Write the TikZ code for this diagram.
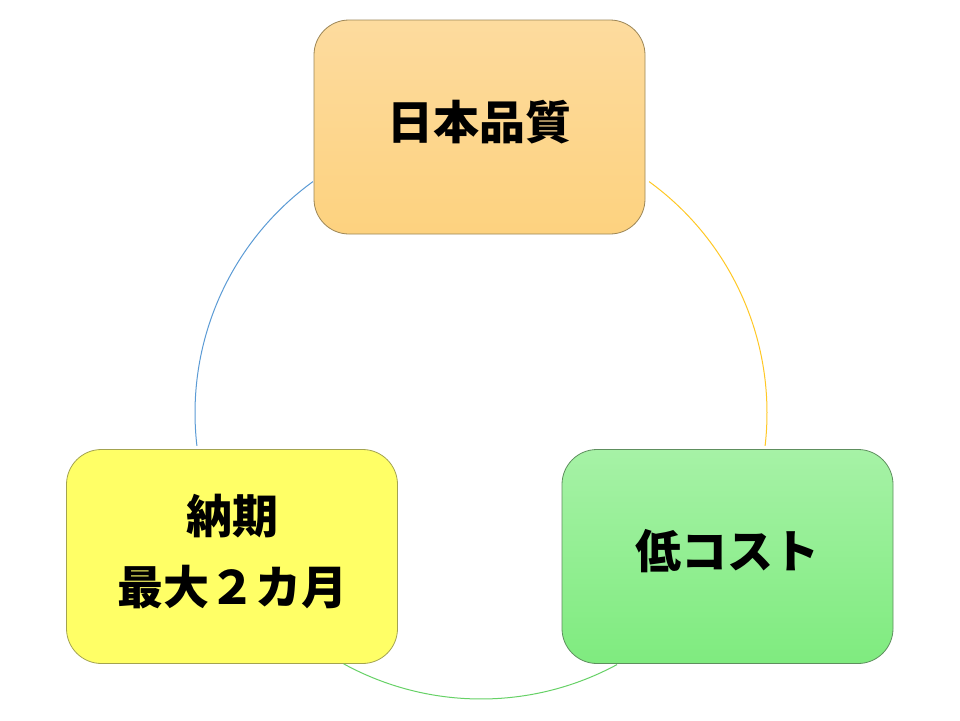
\documentclass[tikz,border=0pt]{standalone}
\usepackage{fontspec}
\newfontfamily\cjk{Noto Sans CJK JP}
\definecolor{qualtop}{HTML}{FDDB9E}
\definecolor{qualbot}{HTML}{FDD27F}
\definecolor{qualline}{HTML}{9C8656}
\definecolor{delfill}{HTML}{FFFF66}
\definecolor{delline}{HTML}{A3A350}
\definecolor{costtop}{HTML}{A6F2A6}
\definecolor{costbot}{HTML}{7FEB7F}
\definecolor{costline}{HTML}{5E8F5E}
\definecolor{ringblue}{HTML}{5B9BD5}
\definecolor{ringyellow}{HTML}{FFC825}
\definecolor{ringgreen}{HTML}{66D166}
\begin{document}
\begin{tikzpicture}[x=1pt, y=-1pt,
  box/.style={draw, rounded corners=35pt, line width=0.8pt, minimum width=331pt,
    minimum height=214pt, align=center, text depth=15pt,
    font=\cjk\bfseries\fontsize{46}{71}\selectfont},
  ring/.style={line width=1pt}] % {{{
\pgfmathsetmacro{\rad}{286}
\useasboundingbox[fill=white] (0,0) rectangle (960,720);
\coordinate (ctr) at (481,413);
% Cajas   {{{
\node[box, draw=qualline, top color=qualtop, bottom color=qualbot] (quality) at (479.5,127) {日本品質};
\node[box, draw=delline, fill=delfill] (delivery) at (232,556.5) {納期\\最大２カ月};
\node[box, draw=costline, top color=costtop, bottom color=costbot] (cost) at (727.5,556.5) {低コスト};
% }}}
% Arcos   {{{
\draw[ring, ringblue] ([shift={(234:\rad)}]ctr) arc[start angle=234, end angle=173.4, radius=\rad];
\draw[ring, ringyellow] ([shift={(-54:\rad)}]ctr) arc[start angle=-54, end angle=6.6, radius=\rad];
\draw[ring, ringgreen] ([shift={(118.7:\rad)}]ctr) arc[start angle=118.7, end angle=61.6, radius=\rad];
% }}}
\end{tikzpicture} % }}}
\end{document}
